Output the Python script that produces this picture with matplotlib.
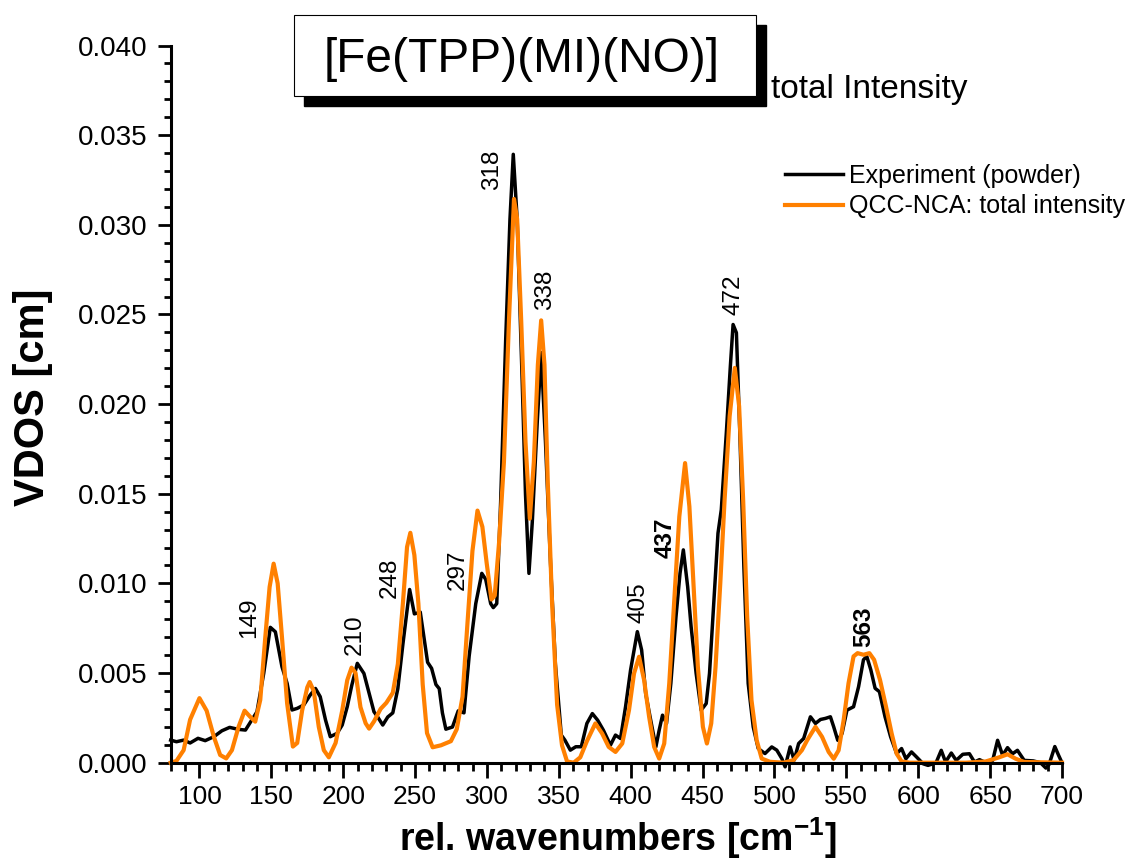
import numpy as np
import matplotlib
matplotlib.use("Agg")
import matplotlib.pyplot as plt
from matplotlib.patches import Rectangle
from matplotlib.ticker import MultipleLocator, FormatStrFormatter

plt.rcParams["font.family"] = ["Liberation Sans", "DejaVu Sans"]
plt.rcParams["mathtext.fontset"] = "custom"
plt.rcParams["mathtext.rm"] = "Liberation Sans"
plt.rcParams["mathtext.bf"] = "Liberation Sans:bold"

# experiment (powder)
exp_x = [80, 84, 89, 93.5, 99, 104, 110, 115.6, 121, 127, 132, 135, 140, 144.7,
         149.3, 152.8, 157.4, 161, 164.4, 168, 172.6, 177, 180.7, 184, 187.7, 191,
         195.8, 199.3, 202.8, 206, 209.8, 214.4, 218, 221.4, 224, 227.5, 231, 234.5,
         238, 241.5, 246.2, 249.5, 253.6, 256.4, 258.7, 261.5, 264.5, 266.8, 269,
         271.4, 276, 280, 284, 287.6, 292.2, 296.4, 299.1, 302.6, 304.4, 306.8,
         309.5, 313, 316, 318.3, 321, 324.5, 326.8, 329.2, 331.5, 335, 337.7, 340.7,
         344.2, 347.6, 351.7, 354.2, 358, 361.8, 365.6, 369.5, 373.3, 377, 381,
         385.9, 389.4, 392.9, 396.4, 399.9, 404.6, 407.6, 410.4, 413.9, 417.5,
         419.8, 422.1, 424.9, 427.9, 431.5, 434.3, 436.6, 439.6, 442, 445.5, 449,
         452.5, 454.8, 457.6, 460.7, 463, 466.5, 469.3, 471.2, 473.5, 475.9, 478.7,
         481.7, 485.2, 488.7, 493.4, 498.1, 501.6, 505.1, 507.4, 510.9, 513.7,
         516.8, 520.3, 525, 528.5, 532, 535.4, 538.9, 541.2, 544, 547, 550.4, 555,
         558.5, 561.9, 564.2, 567, 570, 573, 576.9, 580.8, 585, 588.4, 591.4, 595.3,
         598.8, 603.4, 606.8, 610.3, 612.6, 616, 619, 623, 626.4, 631, 635.6, 639.1,
         642.6, 646, 651.8, 655.2, 658.7, 662.1, 665.6, 669, 673.7, 680, 685, 688.8,
         691, 695, 697.7, 700]
exp_y = [0.00126, 0.00117, 0.00126, 0.0011, 0.00136, 0.00123, 0.00145, 0.00178,
         0.00197, 0.00186, 0.00182, 0.0022, 0.00284, 0.00498, 0.00755, 0.0073,
         0.00535, 0.00442, 0.00294, 0.00303, 0.00322, 0.00377, 0.00414, 0.00368,
         0.00238, 0.00145, 0.00164, 0.0021, 0.00312, 0.00433, 0.00554, 0.00498,
         0.00387, 0.00284, 0.00255, 0.0021, 0.00255, 0.00278, 0.00413, 0.0066,
         0.00966, 0.0083, 0.0084, 0.00684, 0.0056, 0.00526, 0.00436, 0.00413,
         0.00278, 0.00187, 0.00199, 0.00289, 0.00278, 0.00594, 0.00887, 0.01056,
         0.01023, 0.00887, 0.00865, 0.00887, 0.01451, 0.02354, 0.03032, 0.03393,
         0.03032, 0.02129, 0.01497, 0.01056, 0.01339, 0.01903, 0.02287, 0.0179,
         0.01113, 0.00549, 0.00154, 0.00126, 0.0007, 0.00089, 0.00089, 0.00219,
         0.00274, 0.00237, 0.00181, 0.00098, 0.00154, 0.00135, 0.00312, 0.00517,
         0.00731, 0.00628, 0.00386, 0.00237, 0.00088, 0.00182, 0.00265, 0.00219,
         0.00442, 0.00815, 0.01057, 0.01187, 0.00982, 0.00759, 0.00498, 0.00293,
         0.0033, 0.00498, 0.00871, 0.0128, 0.01411, 0.01839, 0.02211, 0.02444,
         0.02398, 0.01839, 0.01094, 0.00442, 0.002, 0.00079, 0.00051, 0.00088,
         0.0007, 0.00023, -0.00023, 0.00088, 0.00014, 0.00107, 0.00135, 0.00256,
         0.00219, 0.00241, 0.00247, 0.00256, 0.002, 0.00125, 0.00163, 0.00293,
         0.00312, 0.00424, 0.00574, 0.00593, 0.00518, 0.00415, 0.00396, 0.00256,
         0.00144, 0.0005, 0.00079, 0.00022, 0.0006, 0.00032, -0.00006, -0.00015,
         -0.00006, 0.00004, 0.00069, 0.00004, 0.00054, 0.00013, 0.00047, 0.0005,
         0.00004, 0.00017, 0.00004, 0.00013, 0.00125, 0.00041, 0.00084, 0.0005,
         0.00069, 0.00013, 0.0001, 0.0, -0.0003, -0.0001, 0.0009, 0.0004, 0.0]

# QCC-NCA total intensity
calc_x = [80, 84, 89, 93.5, 100, 105, 110, 114.4, 118.6, 122.6, 127.2, 131.4,
          135.3, 138.8, 142.3, 145.8, 148.8, 151.6, 154.4, 157.4, 161, 165, 168,
          171.4, 175, 176.7, 179.5, 183, 186.5, 190, 194.7, 199.3, 202.8, 205.8,
          208.6, 212, 215.6, 218, 221.4, 226, 230, 234.5, 238, 241.5, 244.4, 246.7,
          249.5, 252.3, 255.3, 258.3, 262.2, 268, 274.9, 279, 283, 286.4, 289.9,
          293.4, 296.8, 299.8, 303.1, 305.4, 308.4, 311.8, 315.3, 318.8, 321,
          323.8, 326.8, 329.8, 332.6, 335.4, 337.7, 340, 342.3, 345.3, 348.8,
          352.2, 355.7, 360.3, 364.9, 369.5, 375.4, 380.1, 384.7, 389.4, 394.1,
          398.8, 402.3, 405.8, 409.3, 412.8, 416.3, 419.8, 423.3, 426.8, 430.3,
          433.8, 437.8, 440.8, 443.6, 446.7, 450.2, 453, 456, 459, 462.3, 465.3,
          468.8, 472.4, 475.4, 478.2, 481, 484, 487.6, 491.1, 496.9, 506.2, 513.2,
          519.1, 522.7, 528.5, 533.1, 537.7, 541.2, 544.6, 548.1, 551.5, 555,
          557.8, 561.9, 566, 569.3, 573.4, 577.6, 581.5, 585, 588.4, 594.2, 610.3,
          633.3, 647, 656.3, 662.1, 667.8, 673.7, 700]
calc_y = [0.0, 0.0001, 0.0007, 0.0024, 0.0036, 0.0029, 0.00145, 0.00043, 0.00024,
          0.0007, 0.002, 0.0029, 0.00256, 0.00229, 0.0035, 0.007, 0.0098, 0.0111,
          0.01, 0.007, 0.0033, 0.0009, 0.0011, 0.0029, 0.0042, 0.0045, 0.004,
          0.002, 0.0007, 0.0003, 0.0011, 0.0029, 0.0046, 0.0053, 0.005, 0.0031,
          0.0022, 0.0019, 0.0023, 0.003, 0.00334, 0.0039, 0.0055, 0.00887, 0.01203,
          0.01282, 0.01158, 0.00887, 0.00436, 0.00165, 0.00086, 0.00097, 0.0012,
          0.00187, 0.00368, 0.00774, 0.01181, 0.01406, 0.01316, 0.01113, 0.0091,
          0.00932, 0.01226, 0.01677, 0.02467, 0.03144, 0.03032, 0.02467, 0.0179,
          0.01361, 0.01677, 0.02219, 0.02467, 0.02219, 0.01564, 0.00887, 0.00323,
          0.00097, 0.00007, 0.0, 0.0003, 0.0012, 0.00219, 0.00163, 0.00088, 0.0006,
          0.00107, 0.00293, 0.00498, 0.00591, 0.00461, 0.00256, 0.00088, 0.00023,
          0.00107, 0.00442, 0.00908, 0.01373, 0.01671, 0.01429, 0.01001, 0.00535,
          0.002, 0.00107, 0.00219, 0.00535, 0.01001, 0.01467, 0.01932, 0.02202,
          0.01988, 0.01467, 0.00815, 0.00349, 0.00126, 0.00023, 0.00005, 0.0,
          0.00014, 0.0007, 0.00125, 0.002, 0.00144, 0.0006, 0.00022, 0.00069,
          0.00237, 0.00443, 0.00593, 0.00611, 0.00602, 0.00611, 0.00574, 0.00462,
          0.00312, 0.00163, 0.0005, 0.00007, 0.0, 0.0, 0.0, 0.00007, 0.0003,
          0.00047, 0.00022, 0.00004, 0.0]

# peak labels: text, x, y (centre), bold
peak_labels = ["149", "210", "248", "297", "318", "338", "405", "437", "472", "563"]
peak_x = [134.3, 207.9, 232.2, 279.7, 303.6, 340.1, 405.6, 424.2, 471.5, 562.3]
peak_y = [0.00806, 0.00713, 0.01033, 0.01074, 0.03306, 0.02639, 0.0089, 0.01252,
          0.0261, 0.00759]
peak_bold = [False, False, False, False, False, False, False, True, False, True]

W, H = 1138, 860
fig = plt.figure(figsize=(W / 100, H / 100), dpi=100)
ax = fig.add_axes([170.7 / W, 1 - 762.7 / H, (1062 - 170.7) / W, (762.7 - 45.5) / H])

ax.plot(exp_x, exp_y, color="black", lw=2.5, label="Experiment (powder)", clip_on=False)
ax.plot(calc_x, calc_y, color="#ff8000", lw=3.0, label="QCC-NCA: total intensity",
        clip_on=False)

ax.set_xlim(80, 700)
ax.set_ylim(0, 0.040)
ax.xaxis.set_major_locator(MultipleLocator(50))
ax.xaxis.set_minor_locator(MultipleLocator(10))
ax.yaxis.set_major_locator(MultipleLocator(0.005))
ax.yaxis.set_minor_locator(MultipleLocator(0.001))
ax.yaxis.set_major_formatter(FormatStrFormatter("%.3f"))
ax.set_xticks(np.arange(100, 701, 50))

for s in ["top", "right"]:
    ax.spines[s].set_visible(False)
for s in ["left", "bottom"]:
    ax.spines[s].set_linewidth(2.2)

ax.tick_params(axis="both", which="both", direction="out", width=2.0)
ax.tick_params(axis="y", which="major", length=9.5, pad=7, labelsize=20)
ax.tick_params(axis="y", which="minor", length=4.7)
ax.tick_params(axis="x", which="major", length=11, pad=5, labelsize=19)
ax.tick_params(axis="x", which="minor", length=6)

ax.set_xlabel(r"rel. wavenumbers [cm$^{\mathbf{-1}}$]", fontsize=27, fontweight="bold")
ax.xaxis.set_label_coords(0.502, -0.0735)
ax.set_ylabel("VDOS [cm]", fontsize=30, fontweight="bold")
ax.yaxis.label.set_va("center")
ax.yaxis.set_label_coords(-0.154, 0.51)

for lab, px, py, bold in zip(peak_labels, peak_x, peak_y, peak_bold):
    ax.text(px, py, lab, rotation=90, ha="center", va="center", fontsize=17.5,
            fontweight="bold" if bold else "normal")

# legend without frame
fig.legend(loc="upper left", bbox_to_anchor=(785 / W, 1 - 164 / H), frameon=False,
           fontsize=18, handlelength=2.3, handletextpad=0.25, labelspacing=0.25,
           borderpad=0, borderaxespad=0)

# title box with shadow
bx0, by0, bx1, by1 = 293.8, 15.3, 756.4, 96.0
shadow = Rectangle(((bx0 + 10) / W, 1 - (by1 + 10) / H), (bx1 - bx0) / W, (by1 - by0) / H,
                   transform=fig.transFigure, facecolor="black", edgecolor="black")
box = Rectangle((bx0 / W, 1 - by1 / H), (bx1 - bx0) / W, (by1 - by0) / H,
                transform=fig.transFigure, facecolor="white", edgecolor="black", lw=0.8)
fig.add_artist(shadow)
fig.add_artist(box)
fig.text(521.8 / W, 1 - 71.7 / H, "[Fe(TPP)(MI)(NO)]", fontsize=34.5, ha="center",
         va="baseline")
fig.text(771 / W, 1 - 98.3 / H, "total Intensity", fontsize=24, ha="left", va="baseline")

fig.savefig("out.png", dpi=100)
